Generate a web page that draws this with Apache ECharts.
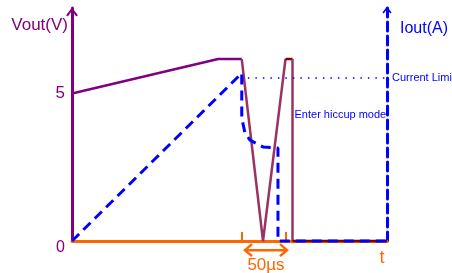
<!DOCTYPE html>
<html>
<head>
<meta charset="utf-8">
<script src="https://cdn.jsdelivr.net/npm/echarts@6/dist/echarts.min.js"></script>
<style>
  html, body { margin: 0; padding: 0; background: #fff; }
  #chart { width: 452px; height: 273px; }
</style>
</head>
<body>
<div id="chart"></div>
<script>
// time axis in µs, voltage/current on the same 0..7.9 scale
const voutRise = [[0, 5], [167, 6.17], [194, 6.17]];
const voutCollapse = [[194, 6.17], [218.3, 0], [244, 6.17]];
const voutPeak = [[244, 6.17], [252, 6.17]];
const voutDrop = [[252, 6.17], [252, 0]];
const voutOff = [[252, 0], [360, 0]];
const ioutPath = [[0, 0], [194, 5.69], [194, 4.17], [197.7, 3.66], [203.4, 3.42], [218.3, 3.19], [235.4, 3.15], [235.4, 0], [360, 0]];
const currentLimit = 5.54;
const limitStart = 201;
const hiccupLabelAt = [252, 4.27];
const pulseWindow = [197.7, 245.7, -0.31]; // from, to, level of the 50µs marker
const pulseTicks = [194, 244];
const voutLabels = [0, 5];

const PURPLE = '#800080';
const MAUVE = '#993366';
const DARKRED = '#800000';
const ORANGE = '#FF6600';
const BLUE = '#0000FF';
const FONT = 'Liberation Sans, Arial, sans-serif';

// open chevron arrow, pointing up
const chevron = 'path://M0,8 L6,0 L12,8 L10.3,9.2 L6,3.2 L1.7,9.2 Z';

const chart = echarts.init(document.getElementById('chart'));

const line = (data, color, width, extra) => Object.assign({
  type: 'line',
  data: data,
  symbol: 'none',
  clip: false,
  lineStyle: { color: color, width: width },
  z: 3
}, extra || {});

// double headed arrow with the 50µs caption under the axis
const renderPulse = (params, api) => {
  const a = api.coord([api.value(0), api.value(2)]);
  const b = api.coord([api.value(1), api.value(2)]);
  const s = { stroke: ORANGE, lineWidth: 2.5, fill: null };
  return {
    type: 'group',
    children: [
      { type: 'line', shape: { x1: a[0], y1: a[1], x2: b[0], y2: b[1] }, style: s },
      { type: 'polyline', shape: { points: [[a[0] + 7, a[1] - 6], a, [a[0] + 7, a[1] + 6]] }, style: s },
      { type: 'polyline', shape: { points: [[b[0] - 7, b[1] - 6], b, [b[0] - 7, b[1] + 6]] }, style: s },
      {
        type: 'text',
        style: {
          text: '50µs', x: (a[0] + b[0]) / 2, y: a[1] + 15,
          align: 'center', verticalAlign: 'middle',
          fill: ORANGE, font: '17px ' + FONT
        }
      }
    ]
  };
};

chart.setOption({
  animation: false,
  textStyle: { fontFamily: FONT },
  grid: { left: 72, right: 65, top: 8, bottom: 32 },
  xAxis: {
    type: 'value',
    min: 0,
    max: 360,
    name: 't',
    nameLocation: 'end',
    nameGap: -5,
    nameTextStyle: { color: ORANGE, fontSize: 18, align: 'center', verticalAlign: 'top', padding: [8, 0, 0, 0] },
    axisLine: { lineStyle: { color: ORANGE, width: 3 } },
    axisTick: { show: true, inside: true, length: 9, customValues: pulseTicks, lineStyle: { color: ORANGE, width: 2 } },
    axisLabel: { show: false },
    splitLine: { show: false }
  },
  yAxis: [
    {
      type: 'value',
      min: 0,
      max: 7.9,
      position: 'left',
      name: 'Vout(V)',
      nameLocation: 'end',
      nameGap: -17,
      nameTextStyle: { color: PURPLE, fontSize: 17, align: 'right', verticalAlign: 'middle', padding: [0, 4, 0, 0] },
      axisLine: {
        show: true,
        lineStyle: { color: PURPLE, width: 3 },
        symbol: ['none', chevron],
        symbolSize: [14, 9],
        symbolOffset: [0, -4]
      },
      axisTick: { show: false },
      axisLabel: {
        customValues: voutLabels,
        color: PURPLE,
        fontSize: 17,
        margin: 7,
        formatter: v => v === 0 ? '{z|0}' : String(v),
        rich: { z: { color: PURPLE, fontSize: 16, padding: [14, 0, 0, 0] } }
      },
      splitLine: { show: false }
    },
    {
      type: 'value',
      min: 0,
      max: 7.9,
      position: 'right',
      name: 'Iout(A)',
      nameLocation: 'end',
      nameGap: -21,
      nameTextStyle: { color: BLUE, fontSize: 16, align: 'left', verticalAlign: 'middle', padding: [0, 0, 0, 13] },
      axisLine: {
        show: true,
        lineStyle: { color: BLUE, width: 3, type: [9, 5] },
        symbol: ['none', chevron],
        symbolSize: [11, 7],
        symbolOffset: [0, -2]
      },
      axisTick: { show: false },
      axisLabel: { show: false },
      splitLine: { show: false }
    }
  ],
  series: [
    line(voutRise, PURPLE, 2.5),
    line(voutCollapse, MAUVE, 2.5),
    line(voutPeak, DARKRED, 2.5),
    line(voutDrop, MAUVE, 2.5, {
      markPoint: {
        symbol: 'circle',
        symbolSize: 0,
        data: [{ coord: hiccupLabelAt }],
        label: { show: true, position: 'right', distance: 2, formatter: 'Enter hiccup mode', color: BLUE, fontSize: 11 }
      }
    }),
    line(voutOff, DARKRED, 2.5),
    line(ioutPath, BLUE, 3, {
      z: 4,
      lineStyle: { color: BLUE, width: 3, type: [10, 6] },
      markLine: {
        symbol: 'none',
        silent: true,
        lineStyle: { color: BLUE, width: 1.5, type: [1.5, 6] },
        label: { show: true, position: 'end', distance: 5, formatter: 'Current Limit', color: BLUE, fontSize: 11 },
        data: [[{ coord: [limitStart, currentLimit] }, { coord: [360, currentLimit] }]]
      }
    }),
    {
      type: 'custom',
      clip: false,
      silent: true,
      encode: { x: [0, 1], y: 2 },
      data: [pulseWindow],
      renderItem: renderPulse,
      z: 5
    }
  ]
});
</script>
</body>
</html>
